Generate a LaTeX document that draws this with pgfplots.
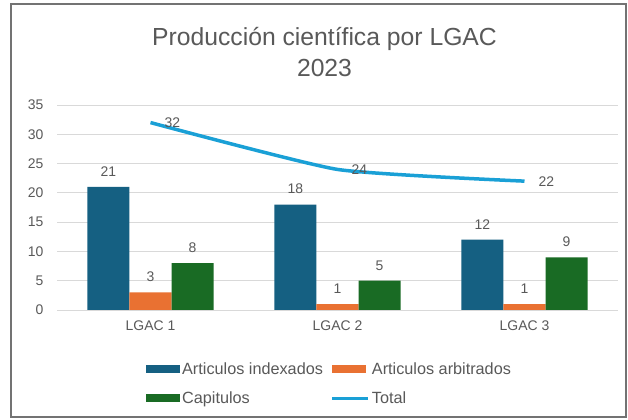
\documentclass[border=0pt]{standalone}
\usepackage{pgfplots}
\pgfplotsset{compat=1.18}
\usepackage{fontspec}
\setmainfont{Liberation Sans}
\definecolor{c1}{HTML}{156082}
\definecolor{c2}{HTML}{E97132}
\definecolor{c3}{HTML}{196B24}
\definecolor{c4}{HTML}{1AA0D6}
\definecolor{txt}{HTML}{595959}
\definecolor{grd}{HTML}{D9D9D9}
\begin{document}
\begin{tikzpicture}
\useasboundingbox (0,0) rectangle (628bp,420bp);
\fill[white] (0,0) rectangle (628bp,420bp);
\draw[line width=1.2bp, color=black!55] (11bp,3bp) rectangle (626bp,416bp);
\node[anchor=base, font=\fontsize{24.8}{28}\selectfont, text=txt] at (324.5bp,374bp) {Producción científica por LGAC};
\node[anchor=base, font=\fontsize{24.8}{28}\selectfont, text=txt] at (324.5bp,343bp) {2023};
\begin{axis}[
  at={(57bp,110bp)}, anchor=south west,
  width=561bp, height=205bp, scale only axis,
  xmin=-0.5, xmax=2.5, ymin=0, ymax=35,
  xtick={0,1,2}, xticklabels={LGAC 1,LGAC 2,LGAC 3},
  ytick={0,5,...,35},
  axis line style={draw=none},
  major tick length=0pt,
  ymajorgrids, grid style={grd, line width=0.8bp},
  tick label style={text=txt, font=\fontsize{14}{16}\selectfont},
  /pgf/number format/assume math mode=true,
  yticklabel style={xshift=-10bp},
  xticklabel style={yshift=-7bp},
  clip=false,
  legend style={draw=none, fill=none, inner sep=0pt, at={(axis description cs:0.1586,-0.245)}, anchor=north west,
    font=\fontsize{16.3}{18}\selectfont, text=txt, row sep=12bp,
    /tikz/every even column/.append style={column sep=6bp}},
  legend columns=2, legend cell align=left,
  nodes near coords style={text=txt, font=\fontsize{14}{16}\selectfont},
]
\addplot[ybar, bar width=0.225, bar shift=0, fill=c1, draw=none,
  nodes near coords, point meta=y, every node near coord/.append style={yshift=7bp},
  legend image code/.code={\fill[c1] (0bp,-4bp) rectangle (34bp,4bp);}]
  coordinates {(-0.225,21) (0.775,18) (1.775,12)};
\addlegendentry{Articulos indexados}
\addplot[ybar, bar width=0.225, bar shift=0, fill=c2, draw=none,
  nodes near coords, point meta=y, every node near coord/.append style={yshift=7bp},
  legend image code/.code={\fill[c2] (0bp,-4bp) rectangle (34bp,4bp);}]
  coordinates {(0,3) (1,1) (2,1)};
\addlegendentry{Articulos arbitrados}
\addplot[ybar, bar width=0.225, bar shift=0, fill=c3, draw=none,
  nodes near coords, point meta=y, every node near coord/.append style={yshift=7bp},
  legend image code/.code={\fill[c3] (0bp,-4bp) rectangle (34bp,4bp);}]
  coordinates {(0.225,8) (1.225,5) (2.225,9)};
\addlegendentry{Capitulos}
\addplot[c4, line width=3.5bp, smooth, tension=0.3, mark=none,
  nodes near coords, every node near coord/.append style={anchor=west, xshift=9bp},
  legend image code/.code={\draw[c4, line width=3bp] (0bp,0bp) -- (36bp,0bp);}]
  coordinates {(0,32) (1,24) (2,22)};
\addlegendentry{Total}
\end{axis}
\end{tikzpicture}
\end{document}
